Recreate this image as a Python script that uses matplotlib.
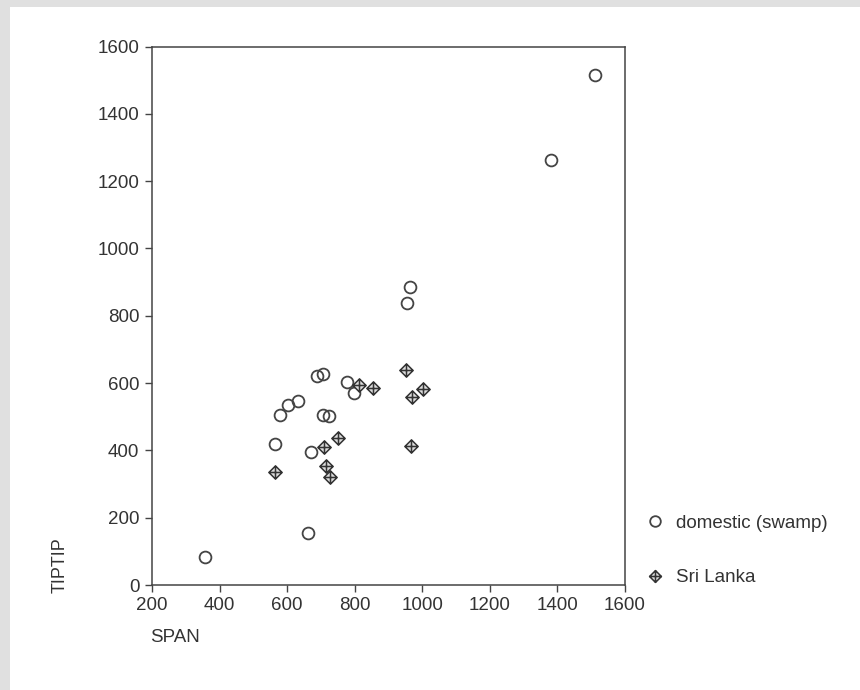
import numpy as np
import matplotlib
matplotlib.use("Agg")
import matplotlib.pyplot as plt
from matplotlib.path import Path
from matplotlib.patches import Rectangle

plt.rcParams['font.family'] = ['Liberation Sans', 'DejaVu Sans']

# domestic (swamp)
dom_span = [357, 662, 564, 579, 602, 632, 670, 688, 706, 706, 724, 777, 798, 955, 963, 1381, 1511]
dom_tip = [83, 155, 419, 505, 535, 547, 395, 621, 627, 505, 502, 603, 571, 838, 886, 1263, 1516]

# Sri Lanka
sl_span = [564, 709, 750, 715, 727, 813, 854, 952, 969, 1002, 966]
sl_tip = [336, 410, 437, 354, 321, 595, 586, 639, 559, 583, 413]

xticks = [200, 400, 600, 800, 1000, 1200, 1400, 1600]
yticks = [0, 200, 400, 600, 800, 1000, 1200, 1400, 1600]

# diamond with a cross inside
verts = [(0, 1), (1, 0), (0, -1), (-1, 0), (0, 1),
         (0, 1), (0, -1), (-1, 0), (1, 0)]
codes = [Path.MOVETO, Path.LINETO, Path.LINETO, Path.LINETO, Path.CLOSEPOLY,
         Path.MOVETO, Path.LINETO, Path.MOVETO, Path.LINETO]
cross_marker = Path(verts, codes)

txt = '#333333'
fig = plt.figure(figsize=(8.6, 6.9), dpi=100, facecolor='#e0e0e0')
fig.patches.append(Rectangle((10 / 860, 0), 1, 1 - 7 / 690, transform=fig.transFigure,
                             facecolor='white', edgecolor='none', zorder=-1))
ax = fig.add_axes([152 / 860, 1 - 585 / 690, 473 / 860, 538.5 / 690])

ax.plot(dom_span, dom_tip, linestyle='none', marker='o', markersize=8.5,
        markerfacecolor='none', markeredgecolor='#444444', markeredgewidth=1.3,
        label='domestic (swamp)')
ax.plot(sl_span, sl_tip, linestyle='none', marker=cross_marker, markersize=9.5,
        markerfacecolor='#dddddd', markeredgecolor='#333333', markeredgewidth=1.1,
        label='Sri Lanka')

ax.set_xlim(200, 1600)
ax.set_ylim(0, 1600)
ax.set_xticks(xticks)
ax.set_yticks(yticks)
ax.tick_params(direction='out', length=5, width=1, colors='#444444',
               labelcolor=txt, labelsize=13.5, pad=4)
for s in ax.spines.values():
    s.set_color('#444444')
    s.set_linewidth(1.1)

fig.text(60 / 860, 1 - 565 / 690, 'TIPTIP', rotation=90, ha='center', va='center',
         fontsize=13, color=txt)
fig.text(150 / 860, 1 - 637 / 690, 'SPAN', ha='left', va='center',
         fontsize=13.5, color=txt)

ax.legend(loc='upper left', bbox_to_anchor=(637 / 860, 1 - 505 / 690),
          bbox_transform=fig.transFigure, frameon=False, fontsize=13.5,
          labelspacing=2.0, handlelength=0.9, handletextpad=0.7,
          labelcolor=txt, borderpad=0, markerscale=0.9)

fig.savefig('out.png', dpi=100, facecolor=fig.get_facecolor())
